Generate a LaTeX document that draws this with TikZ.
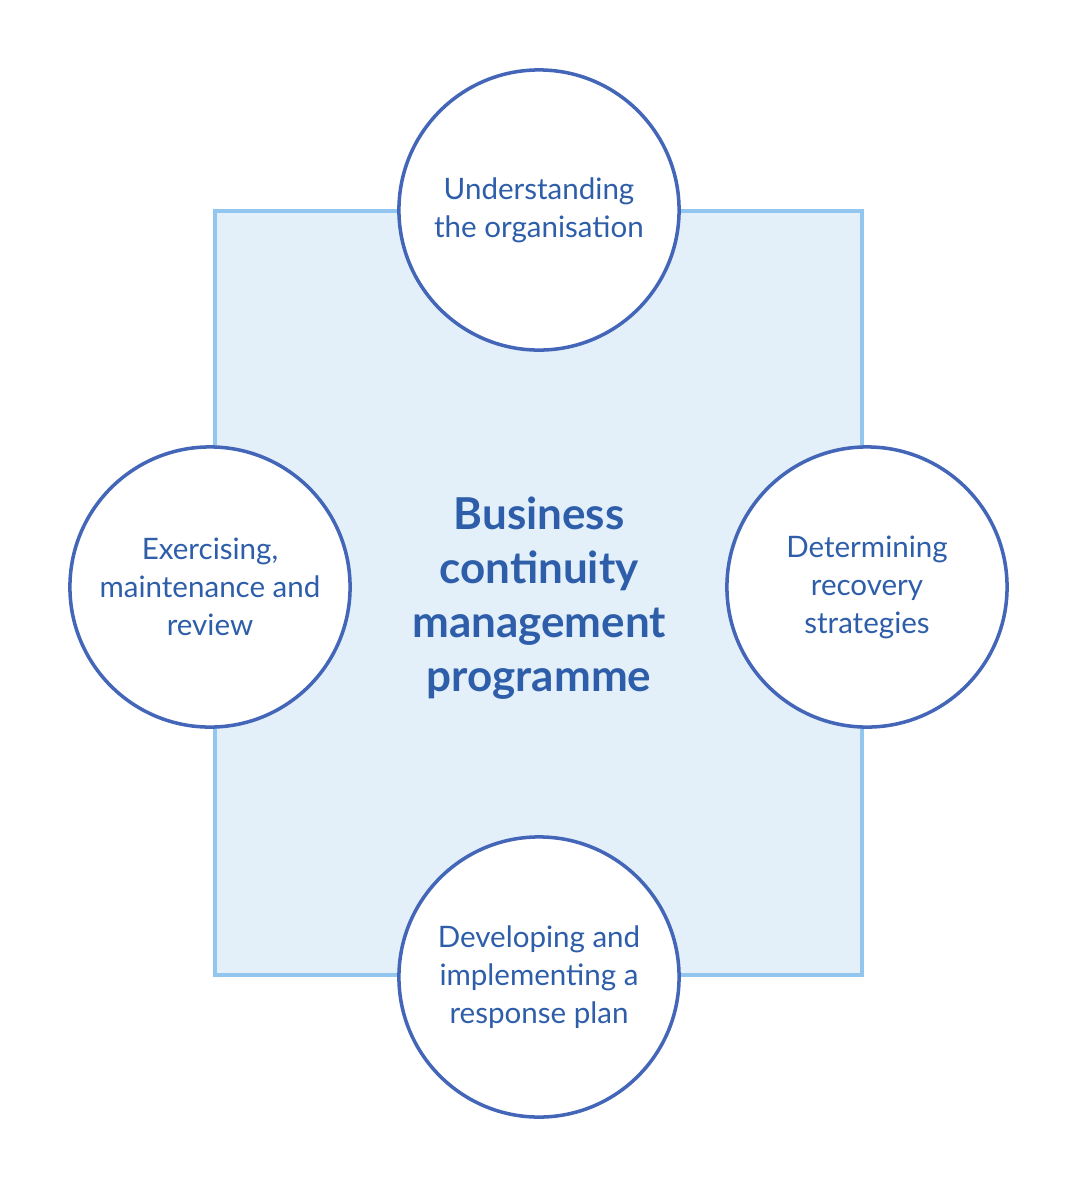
\documentclass[tikz,border=0pt]{standalone}
\usepackage{fontspec}
\setmainfont{Lato}
\usetikzlibrary{positioning}
\definecolor{StepBlue}{RGB}{68,102,184}
\definecolor{TextBlue}{RGB}{46,94,170}
\definecolor{BoxFill}{RGB}{227,240,250}
\definecolor{BoxEdge}{RGB}{147,198,238}

\begin{document}
\begin{tikzpicture}[x=0.01cm,y=-0.01cm,
  stage/.style={circle,draw=StepBlue,line width=1pt,fill=white,minimum size=2.8cm,inner sep=0pt,
    align=center,text=TextBlue,font=\fontsize{8.4}{10.8}\selectfont}]
\useasboundingbox (0,0) rectangle (1081,1196);
\node[draw=BoxEdge,fill=BoxFill,line width=1.1pt,minimum width=6.47cm,minimum height=7.64cm,inner sep=0pt] (prog) at (538.5,593){};
\node[align=center,text=TextBlue,font=\fontsize{12.5}{15.4}\selectfont\bfseries] (core) at (539,598)
  {Business\\continuity\\management\\programme};
\foreach \n/\x/\y/\t in {under/539/210/{Understanding\\the organisation},
  recov/867/587/{Determining\\recovery\\strategies},
  plan/539/977/{Developing and\\implementing a\\response plan},
  exer/210/587/{Exercising,\\maintenance and\\review}}{
\node[stage] (\n) at (\x,\y){\t};}
\end{tikzpicture}
\end{document}
